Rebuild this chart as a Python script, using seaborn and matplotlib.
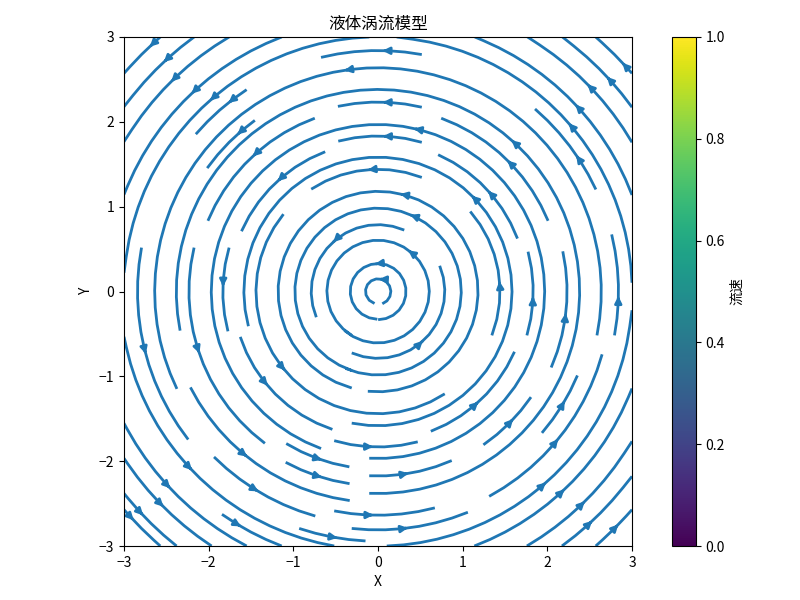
import numpy as np
import matplotlib
matplotlib.use("Agg")
import matplotlib.pyplot as plt
import seaborn as sns

plt.rcParams['font.family'] = ['Noto Sans CJK SC', 'DejaVu Sans']

# 网格范围
x_range = [-3, 3]
y_range = [-3, 3]
n_points = 100

x = np.linspace(x_range[0], x_range[1], n_points)
y = np.linspace(y_range[0], y_range[1], n_points)
X, Y = np.meshgrid(x, y)

# 涡流速度场: 逆时针旋转
U = -Y
V = X

line_color = sns.color_palette()[0]

fig = plt.figure(figsize=(8, 6), dpi=100)
ax = fig.add_axes([124 / 800, 54 / 600, 508 / 800, 509 / 600])
cax = fig.add_axes([672 / 800, 54 / 600, 24 / 800, 509 / 600])

strm = ax.streamplot(X, Y, U, V, color=line_color, linewidth=2, density=1)
cbar = fig.colorbar(strm.lines, cax=cax)
cbar.set_label('流速')

ax.set_title('液体涡流模型')
ax.set_xlabel('X')
ax.set_ylabel('Y')
ax.set_xlim(x_range)
ax.set_ylim(y_range)

fig.savefig('out.png', dpi=100)
